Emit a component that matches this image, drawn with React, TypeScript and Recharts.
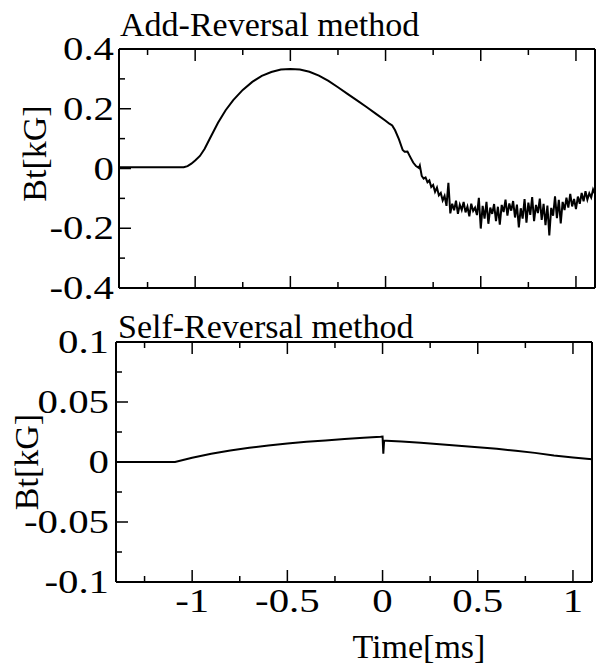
import React from 'react';
import { LineChart, Line, XAxis, YAxis, Label } from 'recharts';

const SERIF = "'Liberation Serif', 'Times New Roman', Times, serif";

// time axis [ms]
const timeTicks = [-1.25, -1, -0.75, -0.5, -0.25, 0, 0.25, 0.5, 0.75, 1];
const timeMajor = [-1, -0.5, 0, 0.5, 1];

// Bt axes [kG]
const addTicks = [-0.4, -0.3, -0.2, -0.1, 0, 0.1, 0.2, 0.3, 0.4];
const addMajor = [-0.4, -0.2, 0, 0.2, 0.4];
const selfTicks = [-0.1, -0.075, -0.05, -0.025, 0, 0.025, 0.05, 0.075, 0.1];
const selfMajor = [-0.1, -0.05, 0, 0.05, 0.1];

// Add-Reversal method
const addTime = [
  -1.4, -1.3, -1.2, -1.1, -1.06, -1.04, -1.02, -1.0, -0.975, -0.95,
  -0.92, -0.88, -0.84, -0.8, -0.75, -0.7, -0.65, -0.6, -0.55, -0.5,
  -0.45, -0.4, -0.35, -0.3, -0.25, -0.2, -0.15, -0.1, -0.05, 0,
  0.02, 0.035, 0.05, 0.07, 0.09, 0.1, 0.115, 0.13, 0.145, 0.16,
  0.175, 0.18, 0.19, 0.2, 0.21, 0.22, 0.23, 0.24, 0.25, 0.26,
  0.27, 0.28, 0.29, 0.3, 0.31, 0.32, 0.33, 0.34, 0.35, 0.36,
  0.37, 0.38, 0.39, 0.4, 0.41, 0.42, 0.43, 0.44, 0.45, 0.46,
  0.47, 0.48, 0.49, 0.5, 0.51, 0.52, 0.53, 0.54, 0.55, 0.56,
  0.57, 0.58, 0.59, 0.6, 0.61, 0.62, 0.63, 0.64, 0.65, 0.66,
  0.67, 0.68, 0.69, 0.7, 0.71, 0.72, 0.73, 0.74, 0.75, 0.76,
  0.77, 0.78, 0.79, 0.8, 0.81, 0.82, 0.83, 0.84, 0.85, 0.86,
  0.87, 0.88, 0.89, 0.9, 0.91, 0.92, 0.93, 0.94, 0.95, 0.96,
  0.97, 0.98, 0.99, 1.0, 1.01, 1.02, 1.03, 1.04, 1.05, 1.06,
  1.07, 1.08, 1.09, 1.1,
];
const addBt = [
  0.004, 0.004, 0.004, 0.004, 0.004, 0.008, 0.016, 0.027, 0.042, 0.066,
  0.104, 0.153, 0.195, 0.229, 0.263, 0.29, 0.31, 0.323, 0.331, 0.333,
  0.331, 0.324, 0.311, 0.293, 0.272, 0.25, 0.228, 0.206, 0.183, 0.16,
  0.15, 0.144, 0.128, 0.098, 0.062, 0.056, 0.057, 0.038, 0.02, 0.008,
  0.002, 0.01, -0.025, -0.034, -0.03, -0.046, -0.04, -0.062, -0.055, -0.078,
  -0.064, -0.09, -0.082, -0.107, -0.092, -0.125, -0.048, -0.15, -0.118, -0.14,
  -0.108, -0.152, -0.121, -0.139, -0.112, -0.147, -0.128, -0.16, -0.118, -0.142,
  -0.131, -0.156, -0.098, -0.201, -0.125, -0.168, -0.112, -0.185, -0.131, -0.152,
  -0.119, -0.176, -0.128, -0.188, -0.122, -0.146, -0.104, -0.158, -0.117, -0.141,
  -0.109, -0.164, -0.121, -0.197, -0.133, -0.168, -0.102, -0.181, -0.114, -0.155,
  -0.096, -0.176, -0.122, -0.149, -0.101, -0.172, -0.118, -0.19, -0.124, -0.224,
  -0.132, -0.158, -0.093, -0.166, -0.105, -0.184, -0.112, -0.139, -0.098, -0.131,
  -0.085, -0.127, -0.102, -0.136, -0.094, -0.118, -0.082, -0.11, -0.076, -0.104,
  -0.083, -0.097, -0.07, -0.085,
];

// Self-Reversal method
const selfTime = [
  -1.4, -1.2, -1.09, -1.0, -0.9, -0.8, -0.7, -0.6, -0.5, -0.4,
  -0.3, -0.2, -0.1, -0.01, 0, 0.004, 0.008, 0.02, 0.1, 0.2,
  0.3, 0.4, 0.5, 0.6, 0.7, 0.8, 0.9, 1.0, 1.1,
];
const selfBt = [
  0, 0, 0, 0.0035, 0.0068, 0.0095, 0.0118, 0.0138, 0.0154, 0.0168,
  0.018, 0.0192, 0.0202, 0.021, 0.0212, 0.007, 0.0178, 0.0177, 0.017, 0.016,
  0.0148, 0.0135, 0.0122, 0.011, 0.0093, 0.0076, 0.0055, 0.0038, 0.0023,
];

const addData = addTime.map((t, i) => ({ t, bt: addBt[i] }));
const selfData = selfTime.map((t, i) => ({ t, bt: selfBt[i] }));

const isMajor = (v: number, major: number[]) => major.some((m) => Math.abs(m - v) < 1e-9);

// tick marks point into the plot, like the original
const InTick = (props: any) => {
  const { x, y, payload, side, major, text, gap = 6 } = props;
  const v = payload.value;
  const big = isMajor(v, major);
  const len = big ? 12 : 6;
  let x2 = x;
  let y2 = y;
  if (side === 'left') x2 = x + len;
  if (side === 'right') x2 = x - len;
  if (side === 'bottom') y2 = y - len;
  if (side === 'top') y2 = y + len;

  let label = null;
  if (text && big) {
    const tr = side === 'left'
      ? `translate(${x - gap},${y + 11}) scale(1.2,1)`
      : `translate(${x},${y + 30}) scale(1.2,1)`;
    label = (
      <text transform={tr} textAnchor={side === 'left' ? 'end' : 'middle'}
        fontSize={34} fontFamily={SERIF} fill="#000">
        {String(v)}
      </text>
    );
  }
  return (
    <g>
      <line x1={x} y1={y} x2={x2} y2={y2} stroke="#000" strokeWidth={1.5} />
      {label}
    </g>
  );
};

const axisLine = { stroke: '#000', strokeWidth: 2 };
const textStyle = { fontSize: 34, fontFamily: SERIF, fill: '#000' };

const App = () => {
  return (
    <div style={{ position: 'absolute', left: 0, top: 0, width: 601, height: 668, background: '#fff' }}>
      <div style={{ position: 'absolute', left: 0, top: 0 }}>
        <LineChart width={601} height={307} data={addData}
          margin={{ top: 48, right: 5, bottom: 18, left: 0 }}>
          <XAxis dataKey="t" type="number" domain={[-1.4, 1.1]} ticks={timeTicks} interval={0}
            height={1} tickSize={0} tickMargin={0} tickLine={false} axisLine={axisLine}
            tick={(p: any) => <InTick {...p} side="bottom" major={timeMajor} />} />
          <XAxis xAxisId="top" orientation="top" dataKey="t" type="number" domain={[-1.4, 1.1]}
            ticks={timeTicks} interval={0} height={1} tickSize={0} tickMargin={0} tickLine={false}
            axisLine={axisLine}
            tick={(p: any) => <InTick {...p} side="top" major={timeMajor} />}>
            <Label content={(p: any) => (
              <text x={p.viewBox.x + 1} y={p.viewBox.y + p.viewBox.height - 13} {...textStyle}>
                Add-Reversal method
              </text>
            )} />
          </XAxis>
          <YAxis type="number" domain={[-0.4, 0.4]} ticks={addTicks} interval={0} width={119}
            tickSize={0} tickMargin={0} tickLine={false} axisLine={axisLine}
            tick={(p: any) => <InTick {...p} side="left" major={addMajor} text gap={5} />}>
            <Label content={(p: any) => (
              <text transform={`translate(46,${p.viewBox.y + p.viewBox.height / 2 - 15}) rotate(-90)`}
                textAnchor="middle" {...textStyle}>Bt[kG]</text>
            )} />
          </YAxis>
          <YAxis yAxisId="right" orientation="right" type="number" domain={[-0.4, 0.4]} ticks={addTicks}
            interval={0} width={1} tickSize={0} tickMargin={0} tickLine={false} axisLine={axisLine}
            tick={(p: any) => <InTick {...p} side="right" major={addMajor} />} />
          <Line type="linear" dataKey="bt" stroke="#000" strokeWidth={2} dot={false}
            isAnimationActive={false} />
        </LineChart>
      </div>
      <div style={{ position: 'absolute', left: 0, top: 307 }}>
        <LineChart width={601} height={361} data={selfData}
          margin={{ top: 34, right: 8, bottom: 0, left: 0 }}>
          <XAxis dataKey="t" type="number" domain={[-1.4, 1.1]} ticks={timeTicks} interval={0}
            height={86} tickSize={0} tickMargin={0} tickLine={false} axisLine={axisLine}
            tick={(p: any) => <InTick {...p} side="bottom" major={timeMajor} text />}>
            <Label content={(p: any) => (
              <text x={p.viewBox.x + p.viewBox.width / 2 + 65} y={p.viewBox.y + 76}
                textAnchor="middle" {...textStyle}>Time[ms]</text>
            )} />
          </XAxis>
          <XAxis xAxisId="top" orientation="top" dataKey="t" type="number" domain={[-1.4, 1.1]}
            ticks={timeTicks} interval={0} height={1} tickSize={0} tickMargin={0} tickLine={false}
            axisLine={axisLine}
            tick={(p: any) => <InTick {...p} side="top" major={timeMajor} />}>
            <Label content={(p: any) => (
              <text x={p.viewBox.x + 2} y={p.viewBox.y + p.viewBox.height - 4} {...textStyle}>
                Self-Reversal method
              </text>
            )} />
          </XAxis>
          <YAxis type="number" domain={[-0.1, 0.1]} ticks={selfTicks} interval={0} width={116}
            tickSize={0} tickMargin={0} tickLine={false} axisLine={axisLine}
            tick={(p: any) => <InTick {...p} side="left" major={selfMajor} text gap={7} />}>
            <Label content={(p: any) => (
              <text transform={`translate(38,${p.viewBox.y + p.viewBox.height / 2}) rotate(-90)`}
                textAnchor="middle" {...textStyle}>Bt[kG]</text>
            )} />
          </YAxis>
          <YAxis yAxisId="right" orientation="right" type="number" domain={[-0.1, 0.1]} ticks={selfTicks}
            interval={0} width={1} tickSize={0} tickMargin={0} tickLine={false} axisLine={axisLine}
            tick={(p: any) => <InTick {...p} side="right" major={selfMajor} />} />
          <Line type="linear" dataKey="bt" stroke="#000" strokeWidth={2} dot={false}
            isAnimationActive={false} />
        </LineChart>
      </div>
    </div>
  );
};

export default App;
